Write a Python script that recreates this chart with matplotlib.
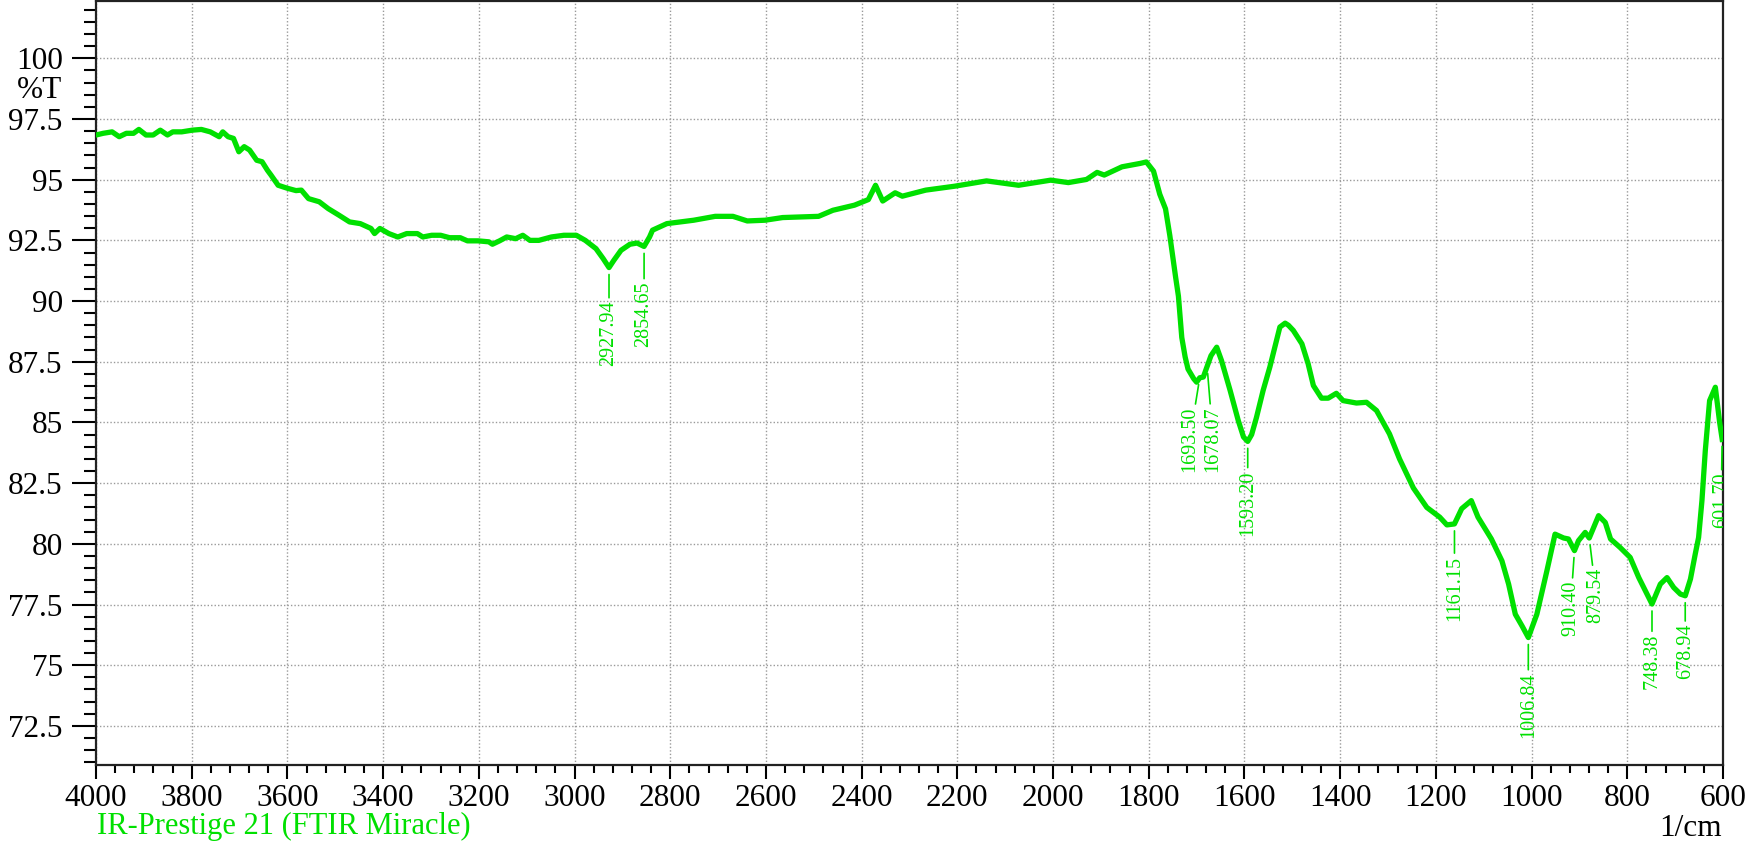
import matplotlib
matplotlib.use("Agg")
import matplotlib.pyplot as plt
from matplotlib.ticker import MultipleLocator, FuncFormatter

plt.rcParams['font.family'] = ['Liberation Serif', 'DejaVu Serif']

# ---- data (wavenumber 1/cm, %T) ----
wavenumber = [
    4000, 3985.1, 3966.4, 3951.5, 3936.6, 3921.6, 3910.4, 3895.5, 3880.6, 3865.7,
    3850.7, 3839.5, 3820.9, 3798.5, 3779.9, 3761.2, 3742.5, 3735.1, 3723.9, 3712.7,
    3701.5, 3690.3, 3679.1, 3664.2, 3653.0, 3641.8, 3634.3, 3619.4, 3600.7, 3582.1,
    3570.9, 3555.9, 3533.5, 3514.9, 3492.5, 3470.1, 3447.7, 3425.3, 3417.9, 3406.7,
    3388.0, 3369.4, 3350.7, 3328.3, 3317.1, 3298.5, 3279.8, 3261.1, 3238.8, 3223.8,
    3201.4, 3179.0, 3171.6, 3156.7, 3141.7, 3123.1, 3108.1, 3093.2, 3074.6, 3048.4,
    3022.3, 2996.2, 2977.5, 2955.2, 2940.2, 2927.9, 2917.8, 2902.9, 2884.2, 2869.3,
    2854.7, 2843.2, 2837, 2807, 2751, 2706, 2669, 2639, 2602, 2565,
    2490, 2460, 2415, 2386, 2371, 2356, 2330, 2315, 2266, 2206,
    2139, 2072, 2005, 1968, 1930, 1908, 1893, 1856, 1818, 1805,
    1790, 1777, 1765, 1756, 1744, 1738, 1731, 1724, 1718, 1706,
    1700, 1693.5, 1686, 1678.1, 1670, 1658, 1648, 1630, 1613, 1602,
    1593.2, 1585, 1575, 1561, 1547, 1526, 1515, 1508, 1498, 1480,
    1467, 1456, 1439, 1425, 1408, 1394, 1366, 1345, 1324, 1297,
    1276, 1247, 1219, 1192, 1177, 1161.2, 1146, 1126, 1112, 1084,
    1062, 1048, 1034, 1020, 1006.8, 989, 968, 951, 933, 923,
    910.4, 902, 888, 879.5, 860, 846, 835, 815, 794, 776,
    748.4, 731, 717, 703, 689, 678.9, 668, 658, 651, 644,
    637, 628, 616, 607, 601.7,
]
transmittance = [
    96.84, 96.91, 96.97, 96.77, 96.91, 96.91, 97.07, 96.84, 96.84, 97.04,
    96.84, 96.97, 96.97, 97.04, 97.07, 96.97, 96.77, 96.97, 96.77, 96.70,
    96.15, 96.36, 96.22, 95.80, 95.74, 95.39, 95.19, 94.77, 94.65, 94.55,
    94.57, 94.22, 94.09, 93.81, 93.54, 93.26, 93.19, 92.99, 92.78, 92.99,
    92.78, 92.64, 92.78, 92.78, 92.64, 92.71, 92.71, 92.61, 92.61, 92.48,
    92.48, 92.44, 92.34, 92.48, 92.64, 92.57, 92.71, 92.50, 92.50, 92.64,
    92.71, 92.71, 92.50, 92.16, 91.75, 91.38, 91.68, 92.09, 92.34, 92.39,
    92.25, 92.64, 92.92, 93.19, 93.33, 93.49, 93.49, 93.30, 93.33, 93.44,
    93.49, 93.74, 93.95, 94.18, 94.77, 94.12, 94.46, 94.32, 94.57, 94.73,
    94.95, 94.77, 94.98, 94.88, 95.01, 95.30, 95.19, 95.53, 95.67, 95.73,
    95.35, 94.40, 93.80, 92.70, 91.00, 90.20, 88.50, 87.70, 87.20, 86.80,
    86.66, 86.84, 86.87, 87.30, 87.75, 88.10, 87.55, 86.32, 85.08, 84.40,
    84.22, 84.50, 85.20, 86.32, 87.28, 88.93, 89.09, 89.00, 88.79, 88.24,
    87.42, 86.52, 86.00, 86.00, 86.20, 85.90, 85.80, 85.83, 85.49, 84.53,
    83.50, 82.30, 81.50, 81.10, 80.78, 80.82, 81.45, 81.78, 81.10, 80.20,
    79.30, 78.34, 77.10, 76.62, 76.14, 77.10, 78.89, 80.40, 80.24, 80.20,
    79.72, 80.13, 80.47, 80.24, 81.16, 80.88, 80.20, 79.85, 79.44, 78.61,
    77.52, 78.34, 78.61, 78.20, 77.93, 77.86, 78.55, 79.58, 80.26, 81.78,
    83.84, 85.90, 86.45, 85.00, 84.30,
]

peak_labels = ["2927.94", "2854.65", "1693.50", "1678.07", "1593.20", "1161.15",
               "1006.84", "910.40", "879.54", "748.38", "678.94", "601.70"]
peak_x = [2927.94, 2854.65, 1693.50, 1678.07, 1593.20, 1161.15,
          1006.84, 910.40, 879.54, 748.38, 678.94, 601.70]
peak_y = [91.38, 92.25, 86.84, 87.30, 84.22, 80.82,
          76.14, 79.72, 80.24, 77.52, 77.86, 84.30]
# text offsets (pixels) of each label relative to its peak
label_dx = [0, 0, -10, 6, 0, 0, 0, -4, 7, 0, 0, -1]
label_dy = [-33, -35, -29, -40, -29, -32, -35, -30, -30, -30, -28, -33]

x_ticks = list(range(4000, 599, -200))
y_ticks = [72.5, 75, 77.5, 80, 82.5, 85, 87.5, 90, 92.5, 95, 97.5, 100]

GREEN = '#00e000'

W, H = 1750, 843
fig = plt.figure(figsize=(W / 100, H / 100), dpi=100)
ax = fig.add_axes([96 / W, 1 - 765 / H, (1723 - 96) / W, (765 - 1) / H])

ax.plot(wavenumber, transmittance, color=GREEN, lw=3.8, solid_joinstyle='round', zorder=3)

ax.set_xlim(4000, 600)
ax.set_ylim(70.89, 102.36)
ax.set_xticks(x_ticks)
ax.set_yticks(y_ticks)
ax.xaxis.set_minor_locator(MultipleLocator(40))
ax.yaxis.set_minor_locator(MultipleLocator(0.5))
ax.yaxis.set_major_formatter(FuncFormatter(lambda v, p: f"{v:g}"))
ax.xaxis.set_major_formatter(FuncFormatter(lambda v, p: f"{int(v)}"))

ax.tick_params(axis='y', which='major', direction='out', length=17, width=1.5, labelsize=22.5, pad=7)
ax.tick_params(axis='y', which='minor', direction='out', length=9, width=1.5)
ax.tick_params(axis='x', which='major', direction='out', length=10, width=1.5, labelsize=22.5, pad=4)
ax.tick_params(axis='x', which='minor', direction='out', length=6, width=1.5)
for s in ax.spines.values():
    s.set_linewidth(1.6)
    s.set_color('#222222')

ax.grid(True, which='major', color='#9a9a9a', linestyle=(0, (1, 1.5)), linewidth=1.0, zorder=0)

for lab, px, py, dx, dy in zip(peak_labels, peak_x, peak_y, label_dx, label_dy):
    ax.annotate(lab, xy=(px, py), xytext=(dx, dy), textcoords='offset pixels',
                rotation=90, ha='center', va='top', fontsize=14.5, color=GREEN,
                clip_on=True,
                arrowprops=dict(arrowstyle='-', color=GREEN, lw=1.2,
                                shrinkA=0, shrinkB=5, clip_on=True))

fig.text(62 / W, 1 - 90 / H, '%T', ha='right', va='center', fontsize=22.5)
fig.text(1722 / W, 1 - 836 / H, '1/cm', ha='right', va='baseline', fontsize=22.5)
fig.text(97 / W, 1 - 834 / H, 'IR-Prestige 21 (FTIR Miracle)', ha='left', va='baseline',
         fontsize=22, color=GREEN)

fig.savefig('out.png', dpi=100)
